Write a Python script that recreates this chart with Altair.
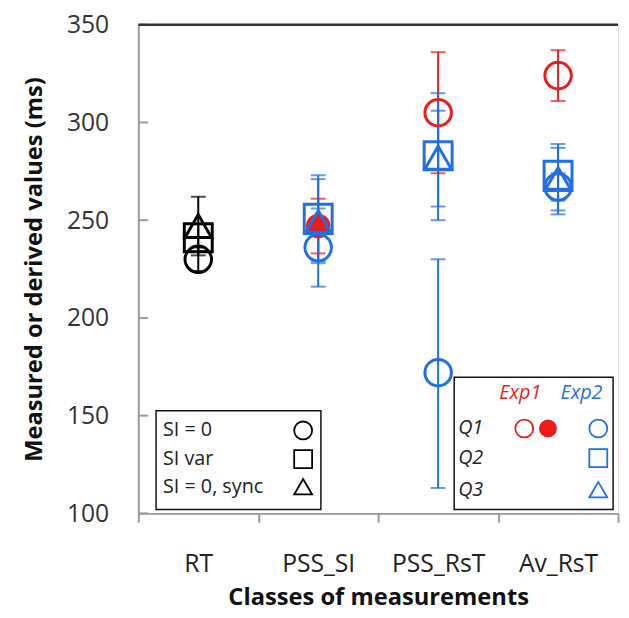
import altair as alt
import pandas as pd

# ---------------- data ----------------
categories = ["RT", "PSS_SI", "PSS_RsT", "Av_RsT"]

BLACK = "#000000"
BLUE = "#1f6fe6"
RED = "#ee1b1b"

pt_cat = ["RT", "RT", "RT",
          "PSS_SI", "PSS_SI", "PSS_SI", "PSS_SI",
          "PSS_RsT", "PSS_RsT", "PSS_RsT", "PSS_RsT",
          "Av_RsT", "Av_RsT", "Av_RsT", "Av_RsT"]
pt_shape = ["circle", "square", "triangle-up",
            "circle", "circle", "square", "triangle-up",
            "circle", "circle", "square", "triangle-up",
            "circle", "circle", "square", "triangle-up"]
pt_color = [BLACK, BLACK, BLACK,
            RED, BLUE, BLUE, BLUE,
            RED, BLUE, BLUE, BLUE,
            RED, BLUE, BLUE, BLUE]
pt_filled = [False, False, False,
             True, False, False, False,
             False, False, False, False,
             False, False, False, False]
pt_value = [230, 241, 247,
            247, 236, 251, 249,
            305, 172, 283, 282,
            324, 267, 273, 271]
pt_lo = [224, 234, 232,
         233, 216, 229, 228,
         274, 113, 250, 257,
         311, 260, 255, 253]
pt_hi = [236, 248, 262,
         261, 256, 273, 271,
         336, 230, 315, 306,
         337, 274, 289, 287]

y_ticks = [100, 150, 200, 250, 300, 350]

left_legend_labels = ["SI = 0", "SI var", "SI = 0, sync"]
left_legend_shapes = ["circle", "square", "triangle-up"]
right_legend_rows = ["Q1", "Q2", "Q3"]
right_legend_cols = ["Exp1", "Exp2"]

# ---------------- build ----------------
size_of = {"circle": 720, "square": 800, "triangle-up": 720}
df = pd.DataFrame({
    "cat": pt_cat, "shape": pt_shape, "color": pt_color,
    "fill": [c if f else "transparent" for c, f in zip(pt_color, pt_filled)],
    "size": [480 if f else size_of[s] for s, f in zip(pt_shape, pt_filled)],
    "value": pt_value, "lo": pt_lo, "hi": pt_hi,
})

W, H = 486, 495
FONT = "Open Sans"

x_enc = alt.X("cat:N", sort=categories,
              scale=alt.Scale(domain=categories, paddingInner=0, paddingOuter=0),
              axis=alt.Axis(title="Classes of measurements", labelAngle=0,
                            tickBand="extent", tickSize=9, tickWidth=2,
                            tickColor="#9a9a9a", domainColor="#9a9a9a",
                            domainWidth=2, labelFontSize=25, labelFont=FONT,
                            labelColor="#222222", labelPadding=30,
                            titleFont=FONT, titleFontSize=24,
                            titleFontWeight="bold", titleColor="#111111",
                            titlePadding=9, grid=False))
y_scale = alt.Scale(domain=[100, 350], nice=False, zero=False)
y_axis = alt.Axis(title="Measured or derived values (ms)", values=y_ticks,
                  tickSize=0, domainColor="#9a9a9a", domainWidth=2,
                  labelFontSize=25, labelFont=FONT, labelColor="#333333",
                  labelPadding=30, titleFont=FONT, titleFontSize=24,
                  titleFontWeight="bold", titleColor="#111111",
                  titlePadding=20, grid=False)

base = alt.Chart(df)

rules = base.mark_rule(strokeWidth=2).encode(
    x=x_enc,
    y=alt.Y("lo:Q", scale=y_scale, axis=y_axis),
    y2="hi:Q",
    color=alt.Color("color:N", scale=None),
)
caps = base.transform_fold(["lo", "hi"], as_=["k", "v"]).mark_tick(
    thickness=2, size=15
).encode(
    x=alt.X("cat:N", sort=categories),
    y=alt.Y("v:Q", scale=y_scale),
    color=alt.Color("color:N", scale=None),
)
points = base.mark_point(strokeWidth=3, opacity=1, fillOpacity=1).encode(
    x=alt.X("cat:N", sort=categories),
    y=alt.Y("value:Q", scale=y_scale),
    shape=alt.Shape("shape:N", scale=None),
    stroke=alt.Stroke("color:N", scale=None),
    fill=alt.Fill("fill:N", scale=None),
    size=alt.Size("size:Q", scale=None),
)

tick_df = pd.DataFrame({"v": y_ticks})
yticks = alt.Chart(tick_df).mark_rule(color="#9a9a9a", strokeWidth=2).encode(
    y=alt.Y("v:Q", scale=y_scale), x=alt.value(0), x2=alt.value(10))
top_line = alt.Chart(pd.DataFrame({"v": [350]})).mark_rule(
    color="#333333", strokeWidth=2.5).encode(
    y=alt.Y("v:Q", scale=y_scale), x=alt.value(0), x2=alt.value(W))


def box(x1, x2, y1, y2):
    return alt.Chart(pd.DataFrame({"a": [0]})).mark_rect(
        fill="white", stroke="#111111", strokeWidth=1.5).encode(
        x=alt.value(x1), x2=alt.value(x2), y=alt.value(y1), y2=alt.value(y2))


def txt(t, x, y, color="#222222", italic=False, align="left", size=16):
    return alt.Chart(pd.DataFrame({"t": [t]})).mark_text(
        align=align, baseline="middle", font=FONT, fontSize=size,
        fontStyle="italic" if italic else "normal", color=color).encode(
        text="t:N", x=alt.value(x), y=alt.value(y))


def sym(shape, x, y, color, filled=False, size=330):
    return alt.Chart(pd.DataFrame({"s": [shape]})).mark_point(
        shape=shape, size=size, strokeWidth=1.8, color=color,
        filled=filled, opacity=1).encode(x=alt.value(x), y=alt.value(y))


layers = [rules, caps, points, yticks, top_line]

# left legend
layers.append(box(18, 185, 391, 491))
ly = [411, 440, 468]
for lab, shp, yy in zip(left_legend_labels, left_legend_shapes, ly):
    layers.append(txt(lab, 25, yy, size=20))
    layers.append(sym(shp, 167, yy, BLACK))

# right legend
layers.append(box(320, 481, 357, 491))
layers.append(txt(right_legend_cols[0], 387, 373, color=RED, italic=True,
                  align="center", size=20))
layers.append(txt(right_legend_cols[1], 449, 373, color=BLUE, italic=True,
                  align="center", size=20))
ry = [409, 439, 471]
for lab, yy in zip(right_legend_rows, ry):
    layers.append(txt(lab, 324, yy, italic=True, size=20))
layers.append(sym("circle", 391, ry[0], RED))
layers.append(sym("circle", 415, ry[0], RED, filled=True))
layers.append(sym("circle", 466, ry[0], BLUE))
layers.append(sym("square", 466, ry[1], BLUE))
layers.append(sym("triangle-up", 466, ry[2], BLUE))

chart = alt.layer(*layers).properties(
    width=W, height=H,
    autosize=alt.AutoSizeParams(type="none"),
    padding={"left": 132, "top": 13, "right": 3, "bottom": 100},
).configure_view(stroke=None).configure(background="white")

chart.save("out.html", embed_options={"renderer": "svg", "actions": False})
